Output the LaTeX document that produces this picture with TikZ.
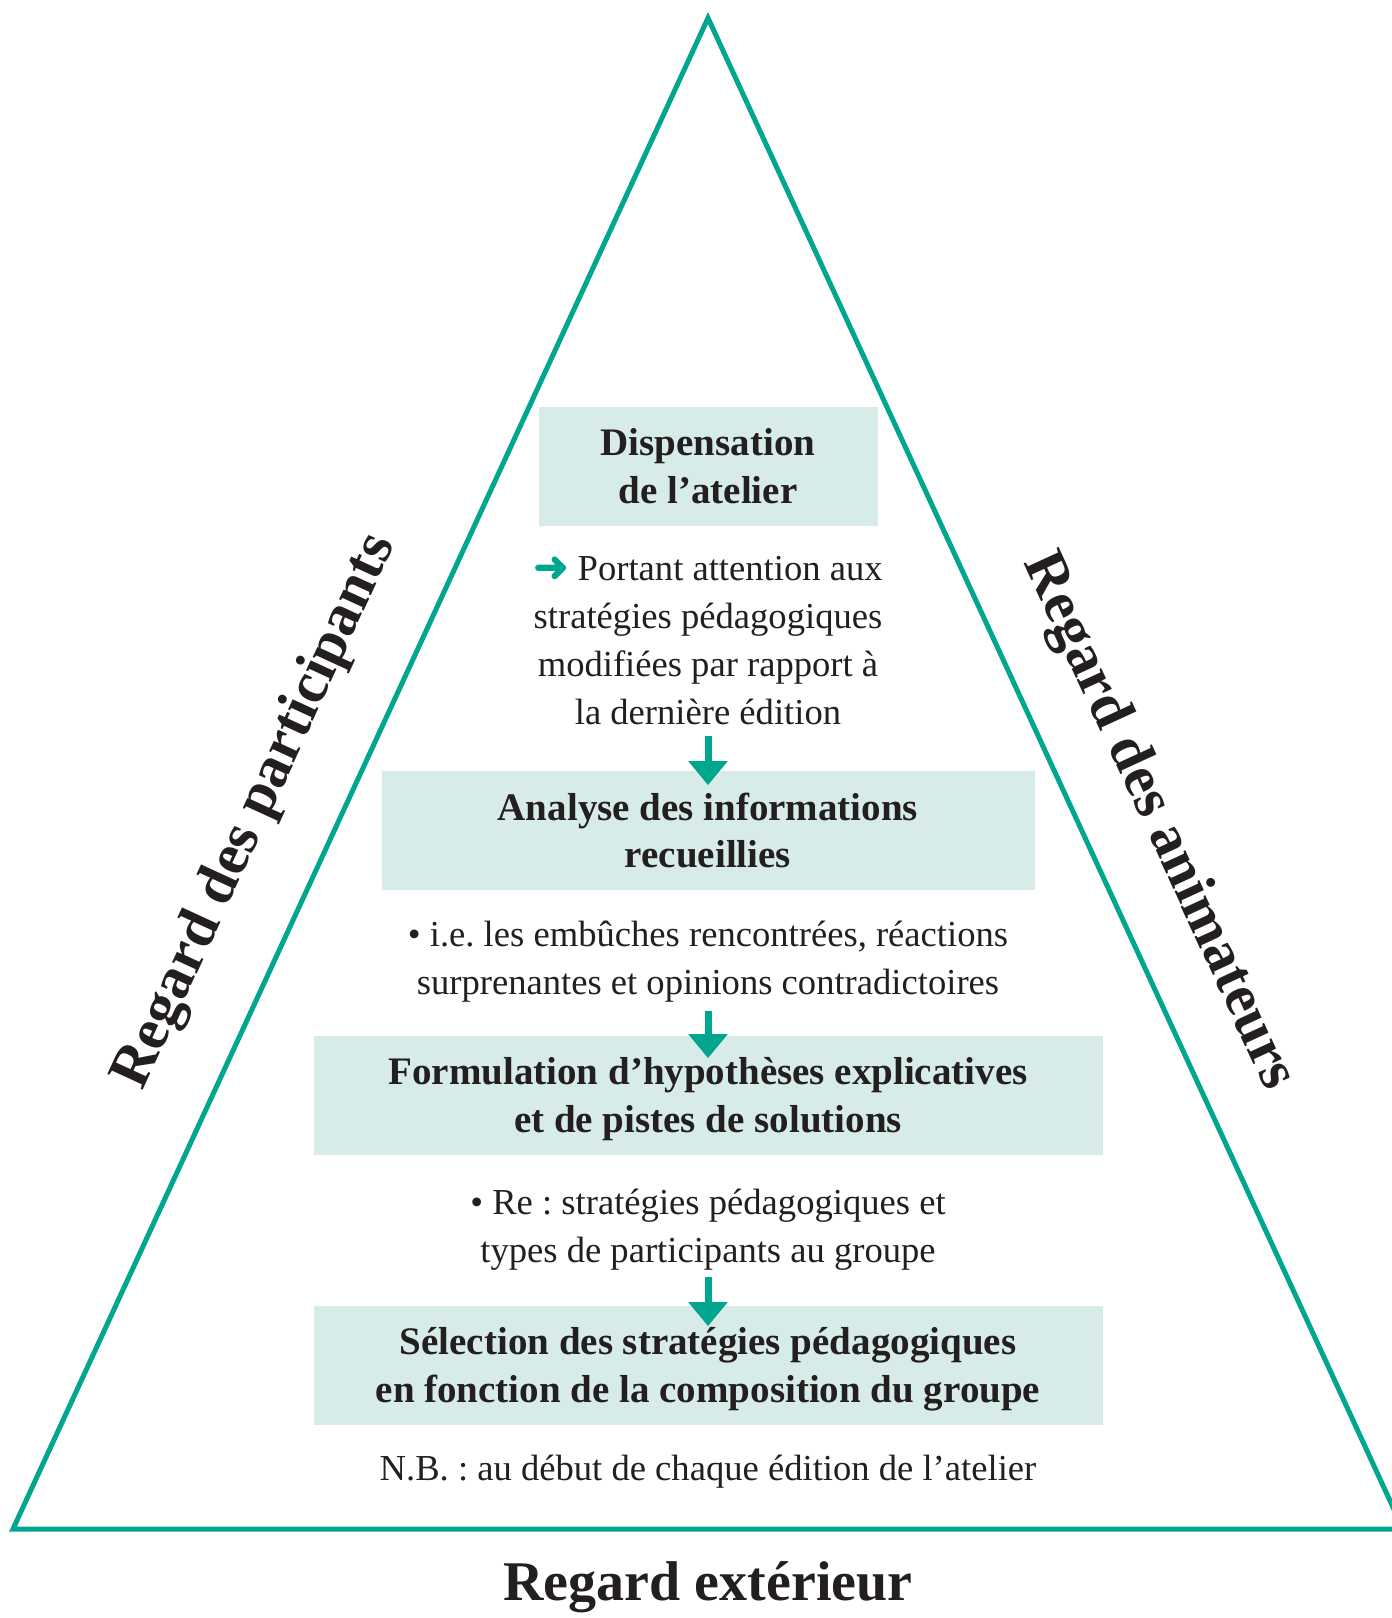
\documentclass[tikz,border=0pt]{standalone}
\usepackage{fontspec}
\setmainfont{Liberation Serif}
\newfontface\symfont[FakeBold=2.5]{DejaVu Sans}
\usetikzlibrary{arrows.meta}
\definecolor{pyrgreen}{RGB}{0,167,142}
\definecolor{boxfill}{RGB}{215,236,232}
\definecolor{inkgray}{RGB}{35,31,32}
\frenchspacing

\begin{document}
\begin{tikzpicture}[x=0.5pt,y=-0.5pt,
  stage/.style={fill=boxfill,text=inkgray,font=\bfseries\fontsize{19.5}{23.7}\selectfont,
    align=center,minimum height=59.5pt,inner sep=0pt,text depth=0pt},
  note/.style={text=inkgray,font=\fontsize{18.3}{24}\selectfont,align=center,inner sep=0pt},
  side/.style={text=inkgray,font=\bfseries\fontsize{28}{30}\selectfont,inner sep=0pt},
  flow/.style={pyrgreen,line width=3.5pt,-{Triangle[width=19pt,length=12pt]}}]
\useasboundingbox (0,0) rectangle (1392,1618);

% the triangle
\coordinate (apex) at (708,18);
\coordinate (bl) at (13,1529);
\coordinate (br) at (1403,1529);
\draw[pyrgreen,line width=2.5pt] (bl) -- (apex) -- (br) -- cycle;

% side labels
\node[side,font=\bfseries\fontsize{29.5}{31}\selectfont,rotate=65.3] (lpart) at (256,812) {Regard des participants};
\node[side,font=\bfseries\fontsize{29.5}{31}\selectfont,rotate=-65.3] (ranim) at (1158,822) {Regard des animateurs};
\node[side] (bext) at (708,1587) {Regard extérieur};

% stages
\node[stage,minimum width=169.5pt] (s1) at (708,466) {Dispensation\\de l’atelier};
\node[note] (t1) at (708,641) {{\symfont\fontsize{21}{24}\selectfont\textcolor{pyrgreen}{➜}} Portant attention aux\\stratégies pédagogiques\\modifiées par rapport à\\la dernière édition};
\node[stage,minimum width=326.5pt] (s2) at (708,830) {Analyse des informations\\recueillies};
\node[note] (t2) at (708,962) {• i.e. les embûches rencontrées, réactions\\surprenantes et opinions contradictoires};
\node[stage,minimum width=394.5pt] (s3) at (708,1095) {Formulation d’hypothèses explicatives\\et de pistes de solutions};
\node[note] (t3) at (708,1230) {• Re : stratégies pédagogiques et\\types de participants au groupe};
\node[stage,minimum width=394.5pt] (s4) at (708,1365) {Sélection des stratégies pédagogiques\\en fonction de la composition du groupe};
\node[note] (t4) at (708,1472) {N.B. : au début de chaque édition de l’atelier};

% arrows
\coordinate (a1) at (708,736);
\coordinate (a2) at (708,1011);
\coordinate (a3) at (708,1277);
\draw[flow] (a1) -- (s2.north) -- +(0,15);
\draw[flow] (a2) -- (s3.north) -- +(0,23);
\draw[flow] (a3) -- (s4.north) -- +(0,21);
\end{tikzpicture}
\end{document}
